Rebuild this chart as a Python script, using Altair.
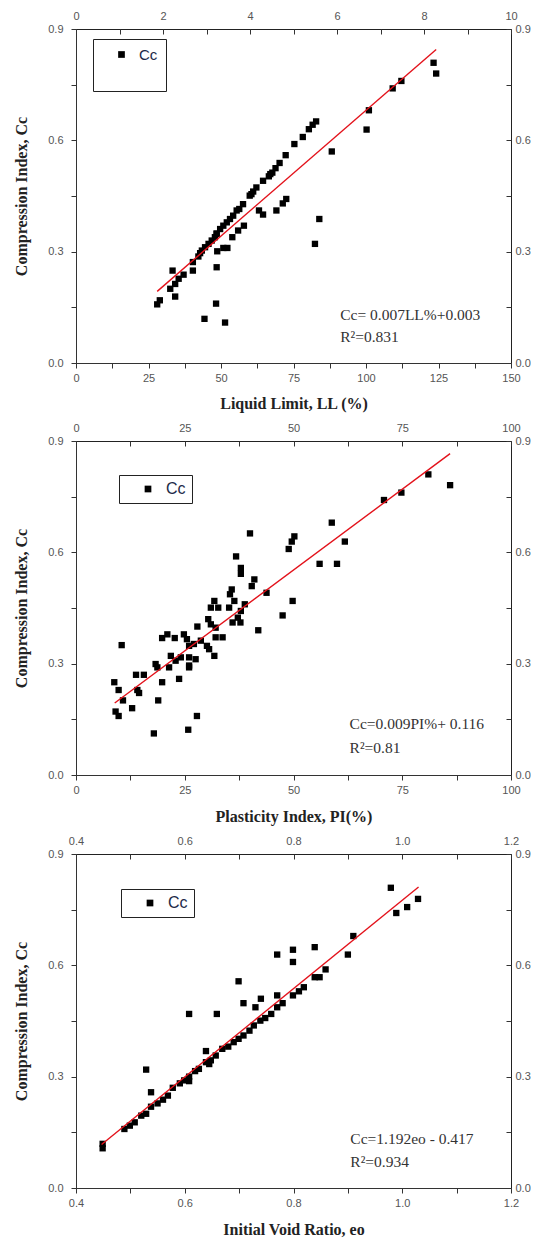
import altair as alt
import pandas as pd

# ---------------- Panel 1: Liquid Limit ----------------
LL = [123.3, 124.2, 112.2, 109.2, 101.0, 100.2, 88.2, 82.8, 81.6, 80.3, 78.2, 75.3, 72.3,
      70.2, 68.8, 67.7, 66.5, 64.5, 62.2, 61.1, 59.9, 57.6, 56.3, 54.2, 53.1, 52.0, 50.8,
      49.7, 48.5, 47.9, 45.7, 44.5, 42.8, 42.2, 40.3, 40.3, 37.1, 35.4, 33.3, 34.2, 32.5,
      34.2, 28.9, 28.0, 48.5, 48.7, 50.8, 52.2, 53.9, 55.9, 57.9, 63.1, 64.5, 69.1, 71.3,
      72.5, 83.9, 82.4, 48.3, 44.3, 51.4, 43.4, 46.8, 55.4, 60.5, 67.0, 48.5]
CC_LL = [0.809, 0.780, 0.760, 0.740, 0.681, 0.629, 0.570, 0.651, 0.642, 0.630, 0.609, 0.590,
         0.560, 0.539, 0.525, 0.513, 0.503, 0.491, 0.473, 0.462, 0.451, 0.428, 0.415, 0.397,
         0.388, 0.379, 0.370, 0.361, 0.349, 0.339, 0.321, 0.312, 0.296, 0.287, 0.272, 0.249,
         0.238, 0.227, 0.249, 0.213, 0.200, 0.179, 0.169, 0.158, 0.258, 0.301, 0.310, 0.310,
         0.339, 0.357, 0.370, 0.411, 0.400, 0.411, 0.430, 0.442, 0.388, 0.321, 0.160, 0.119,
         0.109, 0.303, 0.330, 0.411, 0.455, 0.509, 0.348]
LL_FIT_X = [28.0, 124.2]
LL_FIT_Y = [0.193, 0.845]
LL_EQ = ["Cc= 0.007LL%+0.003", "R\u00b2=0.831"]

# ---------------- Panel 2: Plasticity Index ----------------
PI = [81.0, 86.0, 74.8, 70.8, 58.8, 61.8, 56.0, 60.0, 50.2, 49.6, 48.9, 40.0, 36.8, 37.9,
      37.9, 41.0, 40.4, 43.8, 49.8, 47.5, 41.9, 35.8, 35.4, 36.4, 38.8, 31.8, 31.0, 32.7,
      35.2, 37.9, 37.2, 36.0, 37.8, 30.4, 31.0, 27.9, 32.1, 32.1, 33.7, 21.0, 19.8, 22.7,
      24.8, 25.5, 27.1, 26.0, 28.7, 30.1, 30.6, 31.8, 21.8, 22.9, 21.4, 24.1, 26.0, 27.5,
      26.0, 26.0, 18.3, 18.7, 13.8, 15.6, 23.7, 19.8, 8.8, 9.8, 14.1, 14.5, 10.5, 10.8,
      12.9, 18.9, 9.1, 9.8, 27.8, 17.9, 25.8]
CC_PI = [0.810, 0.781, 0.761, 0.741, 0.680, 0.629, 0.569, 0.569, 0.643, 0.629, 0.609, 0.651,
         0.589, 0.558, 0.542, 0.527, 0.509, 0.491, 0.469, 0.430, 0.390, 0.500, 0.487, 0.469,
         0.460, 0.469, 0.451, 0.451, 0.451, 0.442, 0.424, 0.411, 0.411, 0.420, 0.406, 0.400,
         0.397, 0.371, 0.371, 0.379, 0.369, 0.369, 0.379, 0.366, 0.353, 0.348, 0.362, 0.348,
         0.339, 0.321, 0.321, 0.308, 0.290, 0.317, 0.317, 0.312, 0.295, 0.290, 0.299, 0.290,
         0.270, 0.270, 0.259, 0.250, 0.250, 0.229, 0.229, 0.221, 0.350, 0.201, 0.180, 0.201,
         0.171, 0.159, 0.159, 0.112, 0.122]
PI_FIT_X = [8.9, 86.0]
PI_FIT_Y = [0.194, 0.866]
PI_EQ = ["Cc=0.009PI%+ 0.116", "R\u00b2=0.81"]

# ---------------- Panel 3: Initial Void Ratio ----------------
EO = [0.979, 1.029, 1.009, 0.989, 0.910, 0.900, 0.839, 0.799, 0.799, 0.770, 0.699, 0.859,
      0.848, 0.839, 0.819, 0.810, 0.799, 0.770, 0.780, 0.770, 0.740, 0.708, 0.730, 0.759,
      0.748, 0.739, 0.727, 0.719, 0.708, 0.699, 0.690, 0.680, 0.669, 0.639, 0.657, 0.648,
      0.639, 0.626, 0.619, 0.608, 0.608, 0.599, 0.608, 0.659, 0.529, 0.538, 0.578, 0.569,
      0.560, 0.550, 0.538, 0.529, 0.520, 0.508, 0.499, 0.489, 0.449, 0.449, 0.591, 0.645]
CC_EO = [0.809, 0.779, 0.757, 0.741, 0.679, 0.629, 0.649, 0.642, 0.609, 0.629, 0.557, 0.589,
         0.568, 0.568, 0.541, 0.530, 0.519, 0.519, 0.498, 0.487, 0.510, 0.498, 0.487, 0.469,
         0.458, 0.451, 0.438, 0.424, 0.411, 0.402, 0.393, 0.381, 0.375, 0.369, 0.357, 0.344,
         0.339, 0.321, 0.315, 0.300, 0.288, 0.290, 0.469, 0.469, 0.319, 0.258, 0.270, 0.249,
         0.238, 0.228, 0.219, 0.200, 0.195, 0.177, 0.168, 0.159, 0.119, 0.107, 0.282, 0.334]
EO_FIT_X = [0.447, 1.030]
EO_FIT_Y = [0.117, 0.811]
EO_EQ = ["Cc=1.192eo - 0.417", "R\u00b2=0.934"]

# ---------------- Tick values ----------------
Y_TICKS = [0.0, 0.15, 0.3, 0.45, 0.6, 0.75, 0.9]
LL_TICKS = [0, 12.5, 25, 37.5, 50, 62.5, 75, 87.5, 100, 112.5, 125, 137.5, 150]
# top axis of panel 1 runs 0..10 over the same width (1 unit = 15 LL units)
LL_TOP_TICKS = [0, 15, 30, 45, 60, 75, 90, 105, 120, 135, 150]
PI_TICKS = [0, 12.5, 25, 37.5, 50, 62.5, 75, 87.5, 100]
EO_TICKS = [0.4, 0.5, 0.6, 0.7, 0.8, 0.9, 1.0, 1.1, 1.2]

Y_EXPR = "round(datum.value*100) % 30 == 0 ? format(datum.value, '.1f') : ''"
EXPR_25 = "datum.value % 25 == 0 ? format(datum.value, 'd') : ''"
EXPR_TOP_LL = "round(datum.value/15) % 2 == 0 ? format(datum.value/15, 'd') : ''"
EXPR_EO = "round(datum.value*10) % 2 == 0 ? format(datum.value, '.1f') : ''"

W, H = 435, 334


def panel(xv, yv, fx, fy, eq, eq_x, eq_y, xdom, xticks, xexpr, xtitle,
          tticks, texpr, leg, title_pad):
    df = pd.DataFrame({"x": xv, "y": yv, "series": ["Cc"] * len(xv)})
    xs = alt.Scale(domain=xdom, nice=False, zero=False)
    ys = alt.Scale(domain=[0, 0.9], nice=False, zero=False)
    pts = alt.Chart(df).mark_square(size=40, opacity=1).encode(
        x=alt.X("x:Q", scale=xs,
                axis=alt.Axis(orient="bottom", values=xticks, labelExpr=xexpr, title=xtitle,
                              tickSize=5, labelPadding=4, titlePadding=title_pad)),
        y=alt.Y("y:Q", scale=ys,
                axis=alt.Axis(orient="left", values=Y_TICKS, labelExpr=Y_EXPR,
                              title="Compression Index, Cc", tickSize=5, labelPadding=8,
                              titlePadding=18)),
        color=alt.Color("series:N", scale=alt.Scale(range=["#000000"]), legend=alt.Legend(**leg)),
    )
    fit = alt.Chart(pd.DataFrame({"x": fx, "y": fy})).mark_line(
        color="#e3121b", strokeWidth=1.4).encode(
        x=alt.X("x:Q", scale=xs,
                axis=alt.Axis(orient="top", values=tticks, labelExpr=texpr, title=None,
                              domain=False, offset=-5, tickSize=5, labelPadding=8)),
        y=alt.Y("y:Q", scale=ys,
                axis=alt.Axis(orient="right", values=Y_TICKS, labelExpr=Y_EXPR, title=None,
                              domain=False, offset=-5, tickSize=5, labelPadding=4)),
    )
    eqdf = pd.DataFrame({"x": [eq_x, eq_x], "y": eq_y, "t": eq})
    txt = alt.Chart(eqdf).mark_text(
        align="left", baseline="alphabetic", font="Liberation Serif", fontSize=15.5,
        color="#333333").encode(
        x=alt.X("x:Q", scale=xs, axis=None),
        y=alt.Y("y:Q", scale=ys, axis=None),
        text="t:N",
    )
    return alt.layer(pts, fit, txt).resolve_axis(
        x="independent", y="independent").properties(width=W, height=H)


LEG_BASE = dict(orient="none", strokeColor="#222222", fillColor="white",
                symbolType="square", symbolSize=45, symbolFillColor="black",
                symbolStrokeWidth=0, labelFont="Liberation Sans", labelColor="#1c2a48")

leg1 = dict(LEG_BASE, legendX=17, legendY=10, title="Cc", titleOpacity=0,
            titleOrient="bottom", titleFontSize=18, titlePadding=2, padding=8,
            symbolOffset=13, labelOffset=10, labelFontSize=15)
leg2 = dict(LEG_BASE, legendX=43, legendY=34, title=None, padding=6, symbolOffset=15,
            labelOffset=10, labelFontSize=16)
leg3 = dict(LEG_BASE, legendX=45, legendY=35, title=None, padding=6, symbolOffset=15,
            labelOffset=10, labelFontSize=16)

p1 = panel(LL, CC_LL, LL_FIT_X, LL_FIT_Y, LL_EQ, 91.1, [0.117, 0.056], [0, 150], LL_TICKS,
           EXPR_25, "Liquid Limit, LL (%)", LL_TOP_TICKS, EXPR_TOP_LL, leg1, 12)
p2 = panel(PI, CC_PI, PI_FIT_X, PI_FIT_Y, PI_EQ, 62.9, [0.123, 0.058], [0, 100], PI_TICKS,
           EXPR_25, "Plasticity Index, PI(%)", PI_TICKS, EXPR_25, leg2, 13)
p3 = panel(EO, CC_EO, EO_FIT_X, EO_FIT_Y, EO_EQ, 0.9045, [0.119, 0.056], [0.4, 1.2], EO_TICKS,
           EXPR_EO, "Initial Void Ratio, eo", EO_TICKS, EXPR_EO, leg3, 13)

chart = alt.vconcat(p1, p2, p3, spacing=9).resolve_scale(
    color="independent").resolve_legend(color="independent").properties(
    padding={"left": 5, "top": 1, "right": 0, "bottom": 0}
).configure_axis(
    labelFont="Liberation Sans", labelFontSize=11, labelColor="#555555",
    tickColor="#333333", domainColor="#333333", titleFont="Liberation Serif",
    titleFontSize=16, titleFontWeight="bold", titleColor="#222222", grid=False,
    labelFlush=False, labelOverlap=False,
).configure_view(stroke="#222222", strokeWidth=1)

chart.save("out.html", embed_options={"renderer": "svg", "actions": False})
